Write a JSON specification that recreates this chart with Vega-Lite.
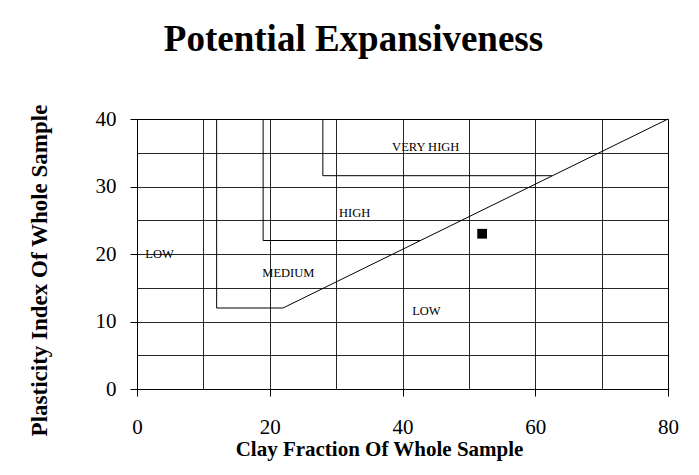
{
  "$schema": "https://vega.github.io/schema/vega-lite/v6.json",
  "width": 531,
  "height": 270,
  "autosize": "none",
  "padding": {"left": 137, "top": 119, "right": 31, "bottom": 86},
  "background": "white",
  "config": {
    "font": "Liberation Serif",
    "view": {"stroke": "black", "strokeWidth": 1}
  },
  "title": {
    "text": "Potential Expansiveness",
    "font": "Liberation Serif",
    "fontSize": 37,
    "fontWeight": "bold",
    "color": "black",
    "anchor": "middle",
    "dx": -49,
    "offset": 45
  },
  "datasets": {
    "bounds": [
      {"zone": "medium", "seq": 1, "clay": 12, "pi": 40},
      {"zone": "medium", "seq": 2, "clay": 12, "pi": 12},
      {"zone": "medium", "seq": 3, "clay": 22, "pi": 12},
      {"zone": "medium", "seq": 4, "clay": 80, "pi": 40},
      {"zone": "high", "seq": 1, "clay": 19, "pi": 40},
      {"zone": "high", "seq": 2, "clay": 19, "pi": 22},
      {"zone": "high", "seq": 3, "clay": 42.7, "pi": 22},
      {"zone": "veryhigh", "seq": 1, "clay": 28, "pi": 40},
      {"zone": "veryhigh", "seq": 2, "clay": 28, "pi": 31.6},
      {"zone": "veryhigh", "seq": 3, "clay": 62.5, "pi": 31.6}
    ],
    "labels": [
      {"label": "VERY HIGH", "clay": 43.5, "pi": 35.9},
      {"label": "HIGH", "clay": 32.8, "pi": 26.1},
      {"label": "MEDIUM", "clay": 22.8, "pi": 17.2},
      {"label": "LOW", "clay": 3.4, "pi": 20.0},
      {"label": "LOW", "clay": 43.6, "pi": 11.6}
    ],
    "sample": [
      {"clay": 52, "pi": 23}
    ]
  },
  "encoding": {
    "x": {
      "field": "clay", "type": "quantitative",
      "scale": {"domain": [0, 80], "nice": false, "zero": false},
      "axis": {
        "title": "Clay Fraction Of Whole Sample",
        "titleFont": "Liberation Serif",
        "titleFontSize": 21,
        "titleFontWeight": "bold",
        "titleColor": "black",
        "titleAlign": "center",
        "titleBaseline": "alphabetic",
        "titleX": 242,
        "titleY": 66,
        "values": [0, 10, 20, 30, 40, 50, 60, 70, 80],
        "labelExpr": "datum.value % 20 == 0 ? datum.label : ''",
        "labelFont": "Liberation Serif",
        "labelFontSize": 21,
        "labelColor": "black",
        "labelPadding": 20,
        "labelFlush": false,
        "labelOverlap": false,
        "grid": true,
        "gridColor": "black",
        "gridOpacity": 0.85,
        "gridWidth": 1,
        "domainColor": "black",
        "tickColor": "black",
        "tickSize": 7,
        "tickOpacity": {"condition": {"test": "datum.value % 20 == 0", "value": 1}, "value": 0}
      }
    },
    "y": {
      "field": "pi", "type": "quantitative",
      "scale": {"domain": [0, 40], "nice": false, "zero": false},
      "axis": {
        "title": "Plasticity Index Of Whole Sample",
        "titleFont": "Liberation Serif",
        "titleFontSize": 23,
        "titleFontWeight": "bold",
        "titleColor": "black",
        "titleAngle": -90,
        "titleAlign": "center",
        "titleBaseline": "middle",
        "titleX": -98,
        "titleY": 151,
        "values": [0, 5, 10, 15, 20, 25, 30, 35, 40],
        "labelExpr": "datum.value % 10 == 0 ? datum.label : ''",
        "labelFont": "Liberation Serif",
        "labelFontSize": 21,
        "labelColor": "black",
        "labelPadding": 14,
        "labelFlush": false,
        "labelOverlap": false,
        "grid": true,
        "gridColor": "black",
        "gridOpacity": 0.85,
        "gridWidth": 1,
        "domainColor": "black",
        "tickColor": "black",
        "tickSize": 7,
        "tickOpacity": {"condition": {"test": "datum.value % 10 == 0", "value": 1}, "value": 0}
      }
    }
  },
  "layer": [
    {
      "data": {"name": "bounds"},
      "mark": {"type": "line", "color": "black", "strokeWidth": 1},
      "encoding": {
        "detail": {"field": "zone"},
        "order": {"field": "seq", "type": "quantitative"}
      }
    },
    {
      "data": {"name": "labels"},
      "mark": {"type": "text", "font": "Liberation Serif", "fontSize": 12.5, "color": "black", "align": "center", "baseline": "middle"},
      "encoding": {
        "text": {"field": "label"}
      }
    },
    {
      "data": {"name": "sample"},
      "mark": {"type": "square", "filled": true, "color": "black", "opacity": 1, "size": 95},
      "encoding": {}
    }
  ]
}
